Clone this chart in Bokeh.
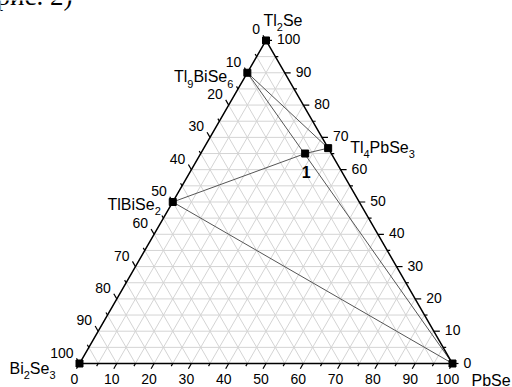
import numpy as np
from bokeh.plotting import figure
from bokeh.models import Range1d
from bokeh.core.properties import value
from bokeh.embed import file_html
from bokeh.resources import INLINE

# ---------------- data ----------------
major_ticks = [0, 10, 20, 30, 40, 50, 60, 70, 80, 90, 100]
minor_ticks = [5, 15, 25, 35, 45, 55, 65, 75, 85, 95]
grid_levels = [5, 10, 15, 20, 25, 30, 35, 40, 45, 50, 55, 60, 65, 70, 75, 80, 85, 90, 95]

point_names = ["Tl2Se", "Tl9BiSe6", "TlBiSe2", "Tl4PbSe3", "Bi2Se3", "PbSe", "1"]
bi2se3_pct = [0, 10, 50, 0, 100, 0, 7]
tl2se_pct = [100, 90, 50, 66.67, 0, 0, 65]
pbse_pct = [0, 0, 0, 33.33, 0, 100, 28]

tie_lines = [("TlBiSe2", "1"), ("1", "Tl4PbSe3"), ("Tl9BiSe6", "PbSe"),
             ("Tl9BiSe6", "Tl4PbSe3"), ("TlBiSe2", "PbSe")]

title_text = "рис. 2)"

# ---------------- layout / style ----------------
W, H = 512, 387
S = 3.73               # px per percent
ox, oy = 79, 363       # canvas position of Bi2Se3 corner
R3 = np.sqrt(3) / 2

def cart(pb, tl):
    return pb + tl / 2.0, tl * R3

def off(x, y, dx, dy):
    # screen pixel offset (dy down) -> data
    return x + dx / S, y - dy / S

p = figure(width=W, height=H, output_backend="svg", toolbar_location=None,
           x_range=Range1d(-ox / S, (W - ox) / S),
           y_range=Range1d(-(H - oy) / S, oy / S),
           min_border=0, border_fill_color="white", background_fill_color="white")
p.axis.visible = False
p.grid.visible = False
p.outline_line_color = None

FONT = value("Liberation Sans")

# grid
gx0, gy0, gx1, gy1 = [], [], [], []
for v in grid_levels:
    for (a, b) in [((0, v), (100 - v, v)),            # const Tl2Se
                   ((v, 0), (v, 100 - v)),            # const PbSe
                   ((100 - v, 0), (0, 100 - v))]:     # const Bi2Se3
        x0, y0 = cart(*a); x1, y1 = cart(*b)
        gx0.append(x0); gy0.append(y0); gx1.append(x1); gy1.append(y1)
p.segment(gx0, gy0, gx1, gy1, line_color="#d4d4d4", line_width=1)

# tie lines
idx = {n: i for i, n in enumerate(point_names)}
px_, py_ = cart(np.array(pbse_pct, float), np.array(tl2se_pct, float))
for a, b in tie_lines:
    p.line([px_[idx[a]], px_[idx[b]]], [py_[idx[a]], py_[idx[b]]],
           line_color="#555555", line_width=1)

# border
tx, ty = cart(np.array([0, 100, 0, 0.0]), np.array([0, 0, 100, 0.0]))
p.line(list(tx), list(ty), line_color="black", line_width=1.5)

# ticks
def tick_segments(vals, L):
    xs0, ys0, xs1, ys1 = [], [], [], []
    for v in vals:
        # bottom (PbSe)
        x, y = cart(v, 0); xs0.append(x); ys0.append(y)
        xs1.append(x - 0.5 * L); ys1.append(y - R3 * L)
        # right (Tl2Se)
        x, y = cart(100 - v, v); xs0.append(x); ys0.append(y)
        xs1.append(x + L); ys1.append(y)
        # left (Bi2Se3)
        x, y = cart(0, 100 - v); xs0.append(x); ys0.append(y)
        xs1.append(x - 0.5 * L); ys1.append(y + R3 * L)
    return xs0, ys0, xs1, ys1

p.segment(*tick_segments(major_ticks, 6 / S), line_color="black", line_width=1.2)
p.segment(*tick_segments(minor_ticks, 3 / S), line_color="black", line_width=1.2)

# tick labels
bx, by, rx, ry, lx, ly, labs = [], [], [], [], [], [], []
for v in major_ticks:
    labs.append(str(v))
    x, y = cart(v, 0); x, y = off(x, y, -5, 15); bx.append(x); by.append(y)
    x, y = cart(100 - v, v); x, y = off(x, y, 11, -1); rx.append(x); ry.append(y)
    x, y = cart(0, 100 - v); x, y = off(x, y, -6, -11); lx.append(x); ly.append(y)
common = dict(text_font=FONT, text_font_size="14px", text_color="black",
              text_baseline="middle")
p.text(bx, by, text=labs, text_align="center", **common)
p.text(rx, ry, text=labs, text_align="left", **common)
p.text(lx, ly, text=labs, text_align="right", **common)

# markers
p.scatter(px_, py_, marker="square", size=7, color="black")

# compound labels with subscripts
WID = {'T': 0.611, 'l': 0.222, 'B': 0.667, 'i': 0.222, 'S': 0.667,
       'e': 0.556, 'P': 0.667, 'b': 0.556}
MAIN, SUB = 16, 11

def pieces(name):
    out = []
    for ch in name:
        sub = ch.isdigit()
        if out and out[-1][1] == sub:
            out[-1][0] += ch
        else:
            out.append([ch, sub])
    return out

def width(txt, sub):
    fs = SUB if sub else MAIN
    return sum(WID.get(c, 0.556) for c in txt) * fs

label_pos = {"Tl2Se": ("left", -2.5, -20), "Tl9BiSe6": ("right", -14, 4),
             "TlBiSe2": ("right", -12, 2.5), "Tl4PbSe3": ("left", 22, -1),
             "Bi2Se3": ("right", -24, 4.5), "PbSe": ("left", 19, 17)}

mx, my, mt, sx, sy, st = [], [], [], [], [], []
for name, (al, dx, dy) in label_pos.items():
    i = idx[name]
    ps = pieces(name)
    total = sum(width(t, s) for t, s in ps)
    cur = dx if al == "left" else dx - total
    for t, s in ps:
        if s:
            x, y = off(px_[i], py_[i], cur, dy + 7)
            sx.append(x); sy.append(y); st.append(t)
        else:
            x, y = off(px_[i], py_[i], cur, dy)
            mx.append(x); my.append(y); mt.append(t)
        cur += width(t, s)
p.text(mx, my, text=mt, text_font=FONT, text_font_size=f"{MAIN}px",
       text_align="left", text_baseline="middle", text_color="black")
p.text(sx, sy, text=st, text_font=FONT, text_font_size=f"{SUB}px",
       text_align="left", text_baseline="middle", text_color="black")

# point "1" label
i1 = idx["1"]
x1, y1 = off(px_[i1], py_[i1], 1, 18)
p.text([x1], [y1], text=["1"], text_font=FONT, text_font_size="16px",
       text_font_style="bold", text_align="center", text_baseline="middle",
       text_color="black")

# clipped caption at top-left
cx, cy = off(-ox / S, oy / S, 72, -5)
p.text([cx], [cy], text=[title_text], text_font=value("Liberation Serif"),
       text_font_size="27px", text_align="right", text_baseline="alphabetic",
       text_color="black")

open("out.html", "w").write(file_html(p, INLINE))
